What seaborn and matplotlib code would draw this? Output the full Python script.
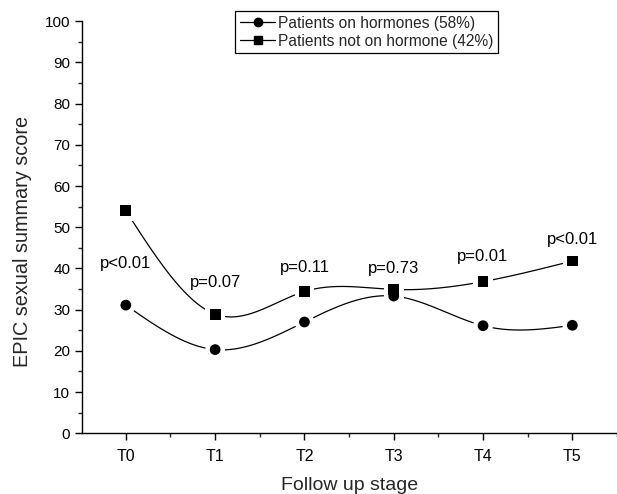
import numpy as np
import pandas as pd
import matplotlib
matplotlib.use("Agg")
import matplotlib.pyplot as plt
import seaborn as sns
from matplotlib.lines import Line2D
from matplotlib.ticker import MultipleLocator

stages = ["T0", "T1", "T2", "T3", "T4", "T5"]
on_hormones = [31.1, 20.3, 27.0, 33.3, 26.1, 26.2]
not_on_hormone = [54.0, 28.9, 34.4, 34.9, 36.8, 41.8]
p_labels = ["p<0.01", "p=0.07", "p=0.11", "p=0.73", "p=0.01", "p<0.01"]
p_label_y = [41.2, 36.5, 40.2, 40.0, 42.8, 47.0]
label_on = "Patients on hormones (58%)"
label_not = "Patients not on hormone (42%)"


def natural_spline(x, y, xs):
    x = np.asarray(x, float); y = np.asarray(y, float)
    n = len(x); h = np.diff(x)
    A = np.zeros((n, n)); r = np.zeros(n)
    A[0, 0] = 1; A[-1, -1] = 1
    for i in range(1, n - 1):
        A[i, i - 1] = h[i - 1]; A[i, i] = 2 * (h[i - 1] + h[i]); A[i, i + 1] = h[i]
        r[i] = 3 * ((y[i + 1] - y[i]) / h[i] - (y[i] - y[i - 1]) / h[i - 1])
    c = np.linalg.solve(A, r)
    b = (y[1:] - y[:-1]) / h - h * (2 * c[:-1] + c[1:]) / 3
    d = (c[1:] - c[:-1]) / (3 * h)
    idx = np.clip(np.searchsorted(x, xs) - 1, 0, n - 2)
    dx = xs - x[idx]
    return y[idx] + b[idx] * dx + c[idx] * dx ** 2 + d[idx] * dx ** 3


sns.set_theme(style="ticks")
plt.rcParams["font.family"] = ["Liberation Sans", "DejaVu Sans"]

fig = plt.figure(figsize=(6.17, 4.94), dpi=100)
ax = fig.add_axes([0.133, 0.123, 0.867, 0.834])

xpos = np.arange(len(stages))
xs = np.linspace(0, len(stages) - 1, 400)
curves = pd.DataFrame({
    "x": np.concatenate([xs, xs]),
    "y": np.concatenate([natural_spline(xpos, on_hormones, xs),
                         natural_spline(xpos, not_on_hormone, xs)]),
    "series": [label_on] * len(xs) + [label_not] * len(xs),
})
sns.lineplot(data=curves, x="x", y="y", units="series", estimator=None,
             color="black", linewidth=0.9, ax=ax, legend=False, zorder=2)

pts = pd.DataFrame({
    "x": np.concatenate([xpos, xpos]),
    "y": on_hormones + not_on_hormone,
    "series": [label_on] * 6 + [label_not] * 6,
})
markers = {label_on: "o", label_not: "s"}
# white halo to create gaps between line and marker
sns.scatterplot(data=pts, x="x", y="y", style="series", markers=markers,
                color="white", s=200, edgecolor="none", ax=ax, legend=False, zorder=3)
sns.scatterplot(data=pts, x="x", y="y", style="series", markers=markers,
                color="black", s=60, edgecolor="none", ax=ax, legend=False, zorder=4)

for xi, lab, yy in zip(xpos, p_labels, p_label_y):
    ax.text(xi, yy, lab, ha="center", va="center", fontsize=12, color="black", zorder=5)

ax.set_xlim(-0.49, 5.5)
ax.set_ylim(0, 100)
ax.set_xticks(xpos)
ax.set_xticklabels(stages)
ax.xaxis.set_minor_locator(MultipleLocator(0.5))
ax.yaxis.set_major_locator(MultipleLocator(10))
ax.yaxis.set_minor_locator(MultipleLocator(5))
ax.tick_params(axis="both", which="major", direction="out", length=5, width=1,
               labelsize=11, colors="black")
ax.tick_params(axis="x", which="major", labelsize=11.5, pad=6)
ax.tick_params(axis="both", which="minor", direction="out", length=3, width=1)
for s in ["top", "right"]:
    ax.spines[s].set_visible(False)
for s in ["left", "bottom"]:
    ax.spines[s].set_color("black")
    ax.spines[s].set_linewidth(1)
ax.set_xlabel("Follow up stage", fontsize=14, labelpad=10)
ax.set_ylabel("EPIC sexual summary score", fontsize=14.3)
ax.yaxis.set_label_coords(-0.093, 0.465)

handles = [
    Line2D([], [], color="black", marker="o", markersize=6, linewidth=0.9),
    Line2D([], [], color="black", marker="s", markersize=6, linewidth=0.9),
]
leg = fig.legend(handles, [label_on, label_not], loc="upper left",
                 bbox_to_anchor=(235 / 617, 1 - 11 / 494), frameon=True,
                 fancybox=False, framealpha=1, edgecolor="black", fontsize=11.2,
                 handlelength=2.3, handletextpad=0.15, borderpad=0.3,
                 labelspacing=0.2, borderaxespad=0)
leg.get_frame().set_linewidth(0.9)

fig.savefig("out.png", dpi=100)
